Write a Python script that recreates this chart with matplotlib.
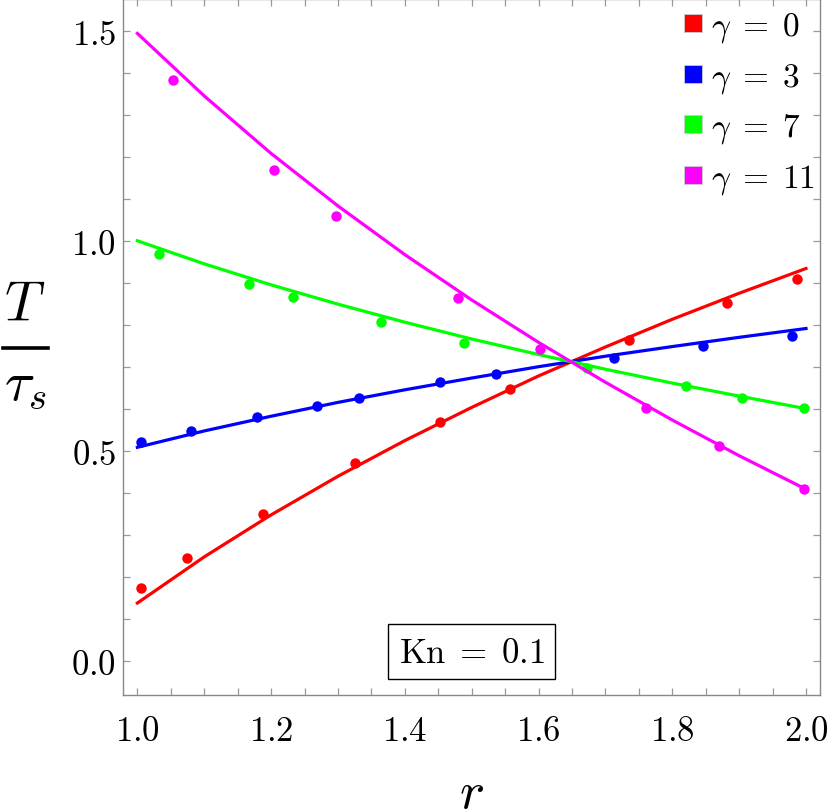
import numpy as np
import matplotlib
matplotlib.use('Agg')
import matplotlib.pyplot as plt
from matplotlib.ticker import MultipleLocator, FuncFormatter
from matplotlib.lines import Line2D

plt.rcParams['mathtext.fontset'] = 'cm'

# curves
r_line = [1.0, 1.1, 1.2, 1.3, 1.4, 1.5, 1.6, 1.7, 1.8, 1.9, 2.0]
T_g0 = [0.137, 0.247, 0.347, 0.439, 0.524, 0.603, 0.678, 0.747, 0.813, 0.875, 0.934]
T_g3 = [0.508, 0.547, 0.582, 0.615, 0.645, 0.673, 0.700, 0.725, 0.748, 0.770, 0.791]
T_g7 = [1.000, 0.945, 0.895, 0.849, 0.806, 0.766, 0.729, 0.694, 0.661, 0.630, 0.600]
T_g11 = [1.494, 1.345, 1.208, 1.083, 0.967, 0.859, 0.758, 0.663, 0.573, 0.488, 0.408]

# simulation points
r_p0 = [1.005, 1.074, 1.188, 1.325, 1.452, 1.557, 1.735, 1.882, 1.987]
T_p0 = [0.173, 0.244, 0.349, 0.471, 0.569, 0.647, 0.764, 0.852, 0.909]
r_p3 = [1.005, 1.080, 1.179, 1.268, 1.331, 1.453, 1.536, 1.713, 1.846, 1.979]
T_p3 = [0.520, 0.548, 0.580, 0.606, 0.625, 0.664, 0.683, 0.721, 0.749, 0.774]
r_p7 = [1.033, 1.167, 1.233, 1.364, 1.489, 1.673, 1.820, 1.905, 1.997]
T_p7 = [0.968, 0.897, 0.867, 0.807, 0.756, 0.696, 0.653, 0.626, 0.601]
r_p11 = [1.054, 1.204, 1.297, 1.480, 1.602, 1.760, 1.870, 1.997]
T_p11 = [1.382, 1.169, 1.060, 0.863, 0.742, 0.601, 0.510, 0.409]

labels = [r'$\gamma\;=\;0$', r'$\gamma\;=\;3$', r'$\gamma\;=\;7$', r'$\gamma\;=\;11$']
colors = ['#ff0000', '#0000ff', '#00ff00', '#ff00ff']

fig = plt.figure(figsize=(8.3, 8.12), dpi=100)
ax = fig.add_axes([0.1486, 0.1429, 0.8394, 0.8571])

lines = [T_g0, T_g3, T_g7, T_g11]
pts = [(r_p0, T_p0), (r_p3, T_p3), (r_p7, T_p7), (r_p11, T_p11)]
for ln, (rp, tp), c in zip(lines, pts, colors):
    ax.plot(r_line, ln, color=c, lw=2.3)
    ax.plot(rp, tp, 'o', color=c, ms=7.5, mec='none')

ax.set_xlim(0.979, 2.021)
ax.set_ylim(-0.082, 1.576)

ax.xaxis.set_major_locator(MultipleLocator(0.2))
ax.xaxis.set_minor_locator(MultipleLocator(0.05))
ax.yaxis.set_major_locator(MultipleLocator(0.5))
ax.yaxis.set_minor_locator(MultipleLocator(0.1))
fmt = FuncFormatter(lambda v, p: r'$%.1f$' % v)
ax.xaxis.set_major_formatter(fmt)
ax.yaxis.set_major_formatter(fmt)

for s in ax.spines.values():
    s.set_color('#888888')
    s.set_linewidth(1.0)
ax.tick_params(which='both', direction='in', top=True, right=True,
               length=5, width=0.9, color='#999999', labelsize=25)
ax.tick_params(axis='x', pad=13)
ax.tick_params(axis='y', pad=5)

ax.set_xlabel(r'$r$', fontsize=38, va='center')
ax.xaxis.set_label_coords(0.5, -0.14)

# y label as a built-up fraction T / tau_s
fig.text(25 / 830, 1 - 306 / 812, r'$T$', fontsize=40, ha='center', va='center')
fig.add_artist(Line2D([3 / 830, 48 / 830], [1 - 349 / 812, 1 - 349 / 812],
                      color='black', lw=2.6, transform=fig.transFigure))
fig.text(25 / 830, 1 - 400 / 812, r'$\tau_s$', fontsize=40, ha='center', va='baseline')

handles = [Line2D([], [], ls='none', marker='s', ms=13.5, color=c, mec='#cccccc', mew=0.6) for c in colors]
ax.legend(handles, labels, loc='upper right', bbox_to_anchor=(1.0, 0.993),
          frameon=False, fontsize=24,
          handlelength=0.6, handletextpad=0.25, labelspacing=0.45,
          borderaxespad=0.0, borderpad=0.15)

ax.text(1.5, 0.021, r'$\mathrm{Kn}\;=\;0.1$', fontsize=25, ha='center', va='center',
        bbox=dict(boxstyle='square,pad=0.3', fc='white', ec='black', lw=1))

fig.savefig('out.png', dpi=100)
